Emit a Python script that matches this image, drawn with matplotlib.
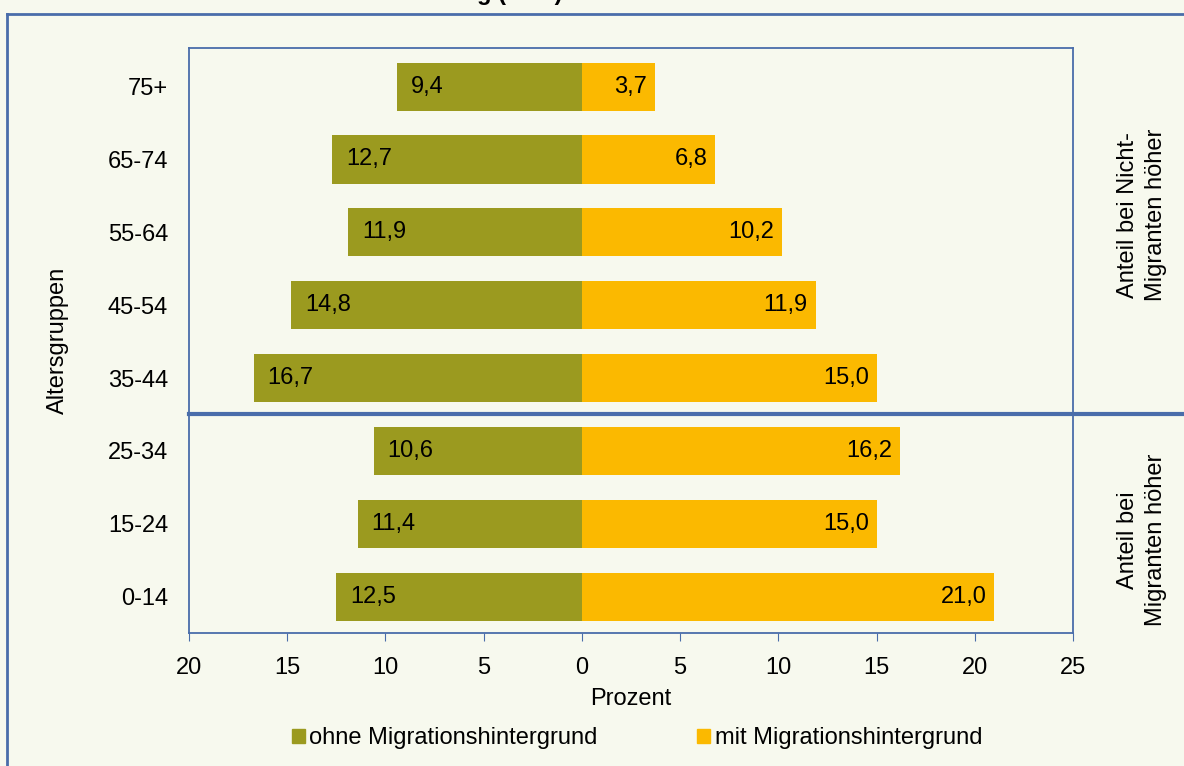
import matplotlib.pyplot as plt
from matplotlib.lines import Line2D
from matplotlib.patches import Patch

plt.rcParams['font.family'] = ['Liberation Sans', 'DejaVu Sans']

altersgruppen = ['0-14', '15-24', '25-34', '35-44', '45-54', '55-64', '65-74', '75+']
ohne_migration = [12.5, 11.4, 10.6, 16.7, 14.8, 11.9, 12.7, 9.4]
mit_migration = [21.0, 15.0, 16.2, 15.0, 11.9, 10.2, 6.8, 3.7]
x_ticks = [-20, -15, -10, -5, 0, 5, 10, 15, 20, 25]

OLIVE = '#9B9A1F'
GOLD = '#FBB900'
BLUE = '#4A6DAA'
BG = '#F7F9EE'
FS = 17

W, H = 1184, 766
fig = plt.figure(figsize=(W / 100, H / 100), dpi=100, facecolor=BG)


def fx(px):
    return px / W


def fy(py):
    return 1 - py / H


ax = fig.add_axes([fx(189), fy(633), fx(1073) - fx(189), fy(48) - fy(633)])
ax.set_facecolor(BG)

ypos = list(range(len(altersgruppen)))
ax.barh(ypos, [-v for v in ohne_migration], height=0.66, color=OLIVE,
        label='ohne Migrationshintergrund')
ax.barh(ypos, mit_migration, height=0.66, color=GOLD,
        label='mit Migrationshintergrund')

for y, v in zip(ypos, ohne_migration):
    ax.text(-v + 0.7, y, f'{v:.1f}'.replace('.', ','), ha='left', va='center',
            fontsize=FS)
for y, v in zip(ypos, mit_migration):
    ax.text(v - 0.4, y, f'{v:.1f}'.replace('.', ','), ha='right', va='center',
            fontsize=FS)

ax.set_xlim(-20, 25)
ax.set_ylim(-0.5, 7.53)
ax.set_xticks(x_ticks)
ax.set_xticklabels([str(abs(t)) for t in x_ticks], fontsize=FS)
ax.set_yticks(ypos)
ax.set_yticklabels(altersgruppen, fontsize=FS)
ax.tick_params(axis='x', direction='out', length=6, color=BLUE, pad=11)
ax.tick_params(axis='y', length=0, pad=15)
for s in ax.spines.values():
    s.set_color(BLUE)
    s.set_linewidth(1.3)

ax.set_xlabel('Prozent', fontsize=FS, labelpad=7)
ax.set_ylabel('Altersgruppen', fontsize=FS, labelpad=28)

# trennlinie zwischen 35-44 und 25-34
ax.plot([0, (W - 189) / 884], [2.5, 2.5], color=BLUE, lw=3,
        transform=ax.get_yaxis_transform(), clip_on=False)

fig.text(fx(1142), fy(215), 'Anteil bei Nicht-\nMigranten höher', rotation=90,
         ha='center', va='center', fontsize=FS, multialignment='center',
         linespacing=1.3)
fig.text(fx(1142), fy(540), 'Anteil bei\nMigranten höher', rotation=90,
         ha='center', va='center', fontsize=FS, multialignment='center',
         linespacing=1.3)

# aeusserer rahmen
fig.add_artist(Line2D([fx(7), fx(7)], [fy(14), 0], color=BLUE, lw=2))
fig.add_artist(Line2D([fx(7), 1], [fy(14), fy(14)], color=BLUE, lw=2))

# abgeschnittener titel
fig.text(fx(562), 1.0, 'Altersstruktur der Bevölkerung (in %)', ha='right',
         va='baseline', fontsize=FS, fontweight='bold')

handles = [Patch(color=OLIVE), Patch(color=GOLD)]
fig.legend(handles, ['ohne Migrationshintergrund', 'mit Migrationshintergrund'],
           loc='center', bbox_to_anchor=(fx(637), fy(738)), ncol=2,
           frameon=False, fontsize=FS, handlelength=0.55, handleheight=0.55,
           handletextpad=0.2, columnspacing=4.2)

fig.savefig('out.png', dpi=100, facecolor=BG)
